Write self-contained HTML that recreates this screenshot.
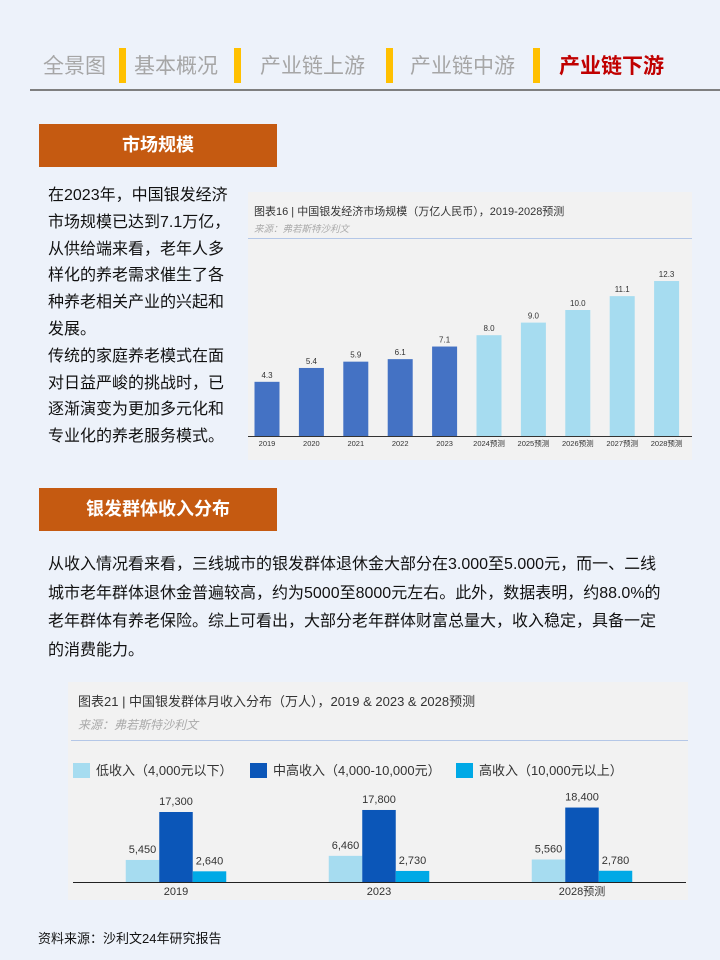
<!DOCTYPE html>
<html><head><meta charset="utf-8"><style>
body{margin:0;width:720px;height:960px;background:#edf2fa;font-family:"Liberation Sans","Noto Sans CJK SC",sans-serif;position:relative;overflow:hidden}
.a{position:absolute}
.nav{top:52px;font-size:21px;color:#a6a6a6;line-height:30px}
.sep{width:7px;height:35px;background:#ffc000;top:48px}
.hdr{left:39px;width:238px;height:43px;background:#c55a11;color:#fff;font-weight:bold;font-size:18px;text-align:center;line-height:43px}
.p1{left:48px;top:183px;width:190px;font-size:16px;line-height:26.8px;color:#111}
.p2{left:48px;top:551px;width:660px;font-size:16px;line-height:28.7px;color:#111;white-space:nowrap}
</style></head><body>
<div class="a nav" style="left:43px">全景图</div>
<div class="a sep" style="left:119px"></div>
<div class="a nav" style="left:134px">基本概况</div>
<div class="a sep" style="left:234px"></div>
<div class="a nav" style="left:260px">产业链上游</div>
<div class="a sep" style="left:386px"></div>
<div class="a nav" style="left:410px">产业链中游</div>
<div class="a sep" style="left:533px"></div>
<div class="a nav" style="left:559px;color:#c00000;font-weight:bold">产业链下游</div>
<div class="a" style="left:30px;top:89px;width:690px;height:2px;background:#7f7f7f"></div>

<div class="a hdr" style="top:124px">市场规模</div>
<div class="a p1">在2023年，中国银发经济市场规模已达到7.1万亿，从供给端来看，老年人多样化的养老需求催生了各种养老相关产业的兴起和发展。<br>传统的家庭养老模式在面对日益严峻的挑战时，已逐渐演变为更加多元化和专业化的养老服务模式。</div>

<svg class="a" style="left:248px;top:192px" width="444" height="268" id="c1"></svg>

<div class="a hdr" style="top:488px">银发群体收入分布</div>
<div class="a p2">从收入情况看来看，三线城市的银发群体退休金大部分在3.000至5.000元，而一、二线<br>城市老年群体退休金普遍较高，约为5000至8000元左右。此外，数据表明，约88.0%的<br>老年群体有养老保险。综上可看出，大部分老年群体财富总量大，收入稳定，具备一定<br>的消费能力。</div>

<svg class="a" style="left:68px;top:682px" width="620" height="218" id="c2"></svg>

<div class="a" style="left:38px;top:928px;font-size:13px;color:#111">资料来源：沙利文24年研究报告</div>

<script>
const years1=["2019","2020","2021","2022","2023","2024预测","2025预测","2026预测","2027预测","2028预测"];
const values1=[4.3,5.4,5.9,6.1,7.1,8.0,9.0,10.0,11.1,12.3];
const labels1=["4.3","5.4","5.9","6.1","7.1","8.0","9.0","10.0","11.1","12.3"];
const forecast1=[0,0,0,0,0,1,1,1,1,1];

const groups2=["2019","2023","2028预测"];
const low2=[5450,6460,5560];
const mid2=[17300,17800,18400];
const high2=[2640,2730,2780];
const seriesNames2=["低收入（4,000元以下）","中高收入（4,000-10,000元）","高收入（10,000元以上）"];

const NS="http://www.w3.org/2000/svg";
function mk(svg,tag,at,txt){const e=document.createElementNS(NS,tag);for(const k in at)e.setAttribute(k,at[k]);if(txt!=null)e.textContent=txt;svg.appendChild(e);return e;}
const F='"Liberation Sans","Noto Sans CJK SC",sans-serif';

// chart 1
const s1=document.getElementById('c1');
let r=mk(s1,'rect',{x:0,y:0,width:444,height:268,fill:'#f2f2f2'});


let t=mk(s1,'text',{x:6,y:23,'font-size':11,fill:'#333','font-family':F},'图表16 | 中国银发经济市场规模（万亿人民币），2019-2028预测');


t=mk(s1,'text',{x:6,y:40,'font-size':9.5,fill:'#aaa','font-style':'italic','font-family':F},'来源：弗若斯特沙利文');


let d=mk(s1,'line',{x1:0,x2:444,y1:46.5,y2:46.5,stroke:'#b4c7e7'});


const base1=244,k1=12.6;
const x1=i=>19+i*44.4;
const y1=v=>base1-v*k1;
years1.forEach((yr,i)=>{
 const b=mk(s1,'rect',{x:x1(i)-12.5,y:y1(values1[i]),width:25,height:base1-y1(values1[i]),fill:forecast1[i]?'#a6dcf0':'#4472c4'});
 
 
 const l=mk(s1,'text',{x:x1(i),y:y1(values1[i])-4,'font-size':8,'text-anchor':'middle',fill:'#333','font-family':F},labels1[i]);
 
 
 const xl=mk(s1,'text',{x:x1(i),y:base1+10,'font-size':7.5,'text-anchor':'middle',fill:'#333','font-family':F},yr);
 
 
});
d=mk(s1,'line',{x1:0,x2:444,y1:base1+.5,y2:base1+.5,stroke:'#333'});



// chart 2
const s2=document.getElementById('c2');
r=mk(s2,'rect',{x:0,y:0,width:620,height:218,fill:'#f2f2f2'});


t=mk(s2,'text',{x:10,y:24,'font-size':13,fill:'#333','font-family':F},'图表21 | 中国银发群体月收入分布（万人），2019 & 2023 & 2028预测');


t=mk(s2,'text',{x:10,y:47,'font-size':12,fill:'#aaa','font-style':'italic','font-family':F},'来源：弗若斯特沙利文');


d=mk(s2,'line',{x1:3,x2:620,y1:58.5,y2:58.5,stroke:'#b4c7e7'});


const cols=['#a6dcf0','#0b56b8','#00a9e6'];
const legX=[5,182,388];
seriesNames2.forEach((n,i)=>{
 const g=mk(s2,'rect',{x:legX[i],y:81,width:17,height:15,fill:cols[i]});
 
 
 const lt=mk(s2,'text',{x:legX[i]+23,y:93,'font-size':13,fill:'#333','font-family':F},n);
 
 
});
const base2=200,k2=70/17300;
const y2=v=>base2-v*k2;
const gx=i=>108+i*203;
const series=[low2,mid2,high2];
groups2.forEach((gname,i)=>{
 series.forEach((arr,j)=>{
  const x=gx(i)+(j-1)*33.5-16.75;
  const b=mk(s2,'rect',{x:x,y:y2(arr[i]),width:33.5,height:base2-y2(arr[i]),fill:cols[j]});
  
  
  const l=mk(s2,'text',{x:x+16.75,y:y2(arr[i])-7,'font-size':11,'text-anchor':'middle',fill:'#333','font-family':F},arr[i].toLocaleString('en-US'));
  
  
 });
 const xl=mk(s2,'text',{x:gx(i),y:base2+13,'font-size':11,'text-anchor':'middle',fill:'#333','font-family':F},gname);
 
 
});
d=mk(s2,'line',{x1:5,x2:618,y1:base2+.5,y2:base2+.5,stroke:'#222'});


</script>
</body></html>
